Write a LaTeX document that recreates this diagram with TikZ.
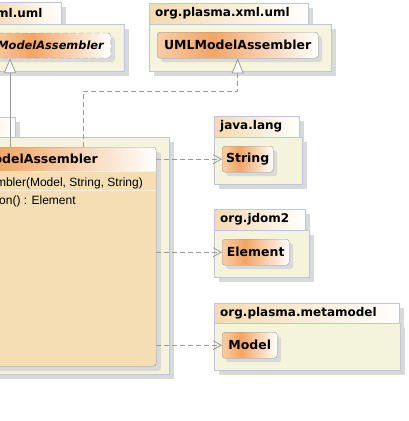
\documentclass[tikz,border=0pt]{standalone}
\usepackage{fontspec}
\setmainfont{DejaVu Sans}
\newfontfamily\regfont{Liberation Sans}
\usetikzlibrary{arrows.meta,shadows}
\definecolor{pkgfill}{HTML}{F4F4DC}
\definecolor{pkgline}{HTML}{BCC6DC}
\definecolor{shad}{HTML}{D9D9D9}
\definecolor{tabL}{HTML}{F4DAAE}
\definecolor{clsL}{HTML}{F8CDA8}
\definecolor{clsM}{HTML}{F4A562}
\definecolor{clsline}{HTML}{9A9A9A}
\definecolor{clsbody}{HTML}{F5DEB3}
\definecolor{conn}{HTML}{9A9A9A}
\pgfdeclarehorizontalshading{tabshade}{100bp}{color(0bp)=(tabL); color(25bp)=(tabL); color(75bp)=(white); color(100bp)=(white)}
\pgfdeclarehorizontalshading{clsshade}{100bp}{color(0bp)=(clsL); color(25bp)=(clsL); color(42bp)=(clsM); color(75bp)=(white); color(100bp)=(white)}
\newcommand\pkgdraw[8]{%
  \fill[shad] (#1+5,#2+5) rectangle (#3+5,#4+5);
  \fill[shad] (#1+5,#4+5) rectangle (#5+5,#6+5);
  \filldraw[fill=pkgfill, draw=pkgline] (#1,#4) rectangle (#5,#6);
  \shadedraw[shading=tabshade, draw=pkgline] (#1,#2) rectangle (#3,#4);
  \node[pkgname, anchor=west] (#8) at (#1+6, {(#2+#4)/2}) {#7};
}
\begin{document}
\begin{tikzpicture}[x=1pt,y=-1pt,
  pkgname/.style={font=\fontsize{12}{14}\selectfont\bfseries, inner sep=0pt},
  cbox/.style={draw=clsline, rounded corners=3pt, shade, shading=clsshade,
    font=\fontsize{12.5}{15}\selectfont\bfseries, inner sep=0pt, anchor=north west,
    drop shadow={shadow xshift=4pt, shadow yshift=-4pt, fill=shad, opacity=1}},
  sepline/.style={draw=white!55!clsbody, line width=1pt},
  dep/.style={draw=conn, line width=0.8pt, dash pattern=on 5pt off 3pt,
    -{Straight Barb[length=8pt,width=9pt]}},
  realz/.style={draw=conn, line width=0.8pt, dash pattern=on 5pt off 3pt,
    -{Triangle[fill=white,length=15pt,width=12pt]}},
  gen/.style={draw=conn, line width=0.8pt, -{Triangle[fill=white,length=15pt,width=12pt]}},
  mtext/.style={font=\regfont\fontsize{12}{14}\selectfont, inner sep=0pt}]
\useasboundingbox (0,0) rectangle (408,421);
\clip (0,0) rectangle (408,421);
% packages
\pkgdraw{-10}{2}{61}{24}{124}{71}{ml.uml}{pA}
\pkgdraw{149}{3}{308}{24}{331}{71}{org.plasma.xml.uml}{pB}
\pkgdraw{-100}{117}{15}{137}{169}{374}{}{pC}
\pkgdraw{214}{116}{299}{137}{302}{184}{java.lang}{pD}
\pkgdraw{214}{209}{305}{230}{309}{277}{org.jdom2}{pE}
\pkgdraw{214}{303}{399}{323}{400}{370}{org.plasma.metamodel}{pF}
% classes
\node[cbox, dashed, dash pattern=on 5pt off 3pt, anchor=east, inner xsep=7pt, minimum height=25,
  font=\fontsize{11.4}{14}\selectfont\bfseries\itshape] (abs) at (111,45.5) {ModelAssembler};
\node[cbox, minimum width=161, minimum height=26] (uml) at (157,32) {UMLModelAssembler};
\node[cbox, minimum width=51, minimum height=26] (str) at (222,146) {String};
\node[cbox, minimum width=67, minimum height=26] (elem) at (222,239) {Element};
\node[cbox, minimum width=55, minimum height=26] (mdl) at (222,332) {Model};
% central class
\fill[shad, rounded corners=3pt] (-79,152) rectangle (161,371);
\fill[clsbody, rounded corners=3pt] (-84,147) rectangle (156,366);
\begin{scope}
  \clip[rounded corners=3pt] (-84,147) rectangle (156,366);
  \shade[shading=clsshade] (-84,147) rectangle (156,171);
\end{scope}
\draw[sepline] (-84,171) -- (156,171);
\draw[sepline] (-84,190) -- (156,190);
\node[draw=clsline, rounded corners=3pt, inner sep=0pt, minimum width=240, minimum height=219,
  anchor=north west] (cls) at (-84,147) {};
\node[font=\fontsize{12.5}{15}\selectfont\bfseries, inner sep=0pt, anchor=east] (clsname) at (98,159) {ModelAssembler};
\node[mtext, anchor=east] (ctor) at (143,183) {ModelAssembler(Model, String, String)};
\node[mtext, anchor=west] (meth) at (-1,201) {on() : Element};
% connectors
\coordinate (g1) at (10,0);
\coordinate (r1) at (83,91);
\draw[gen] (cls.north -| g1) -- (abs.south -| g1);
\draw[realz] (cls.north -| r1) -- (r1) -| (uml.south);
\draw[dep] (cls.east |- str.west) -- (str.west);
\draw[dep] (cls.east |- elem.west) -- (elem.west);
\draw[dep] (cls.east |- mdl.west) -- (mdl.west);
\end{tikzpicture}
\end{document}
